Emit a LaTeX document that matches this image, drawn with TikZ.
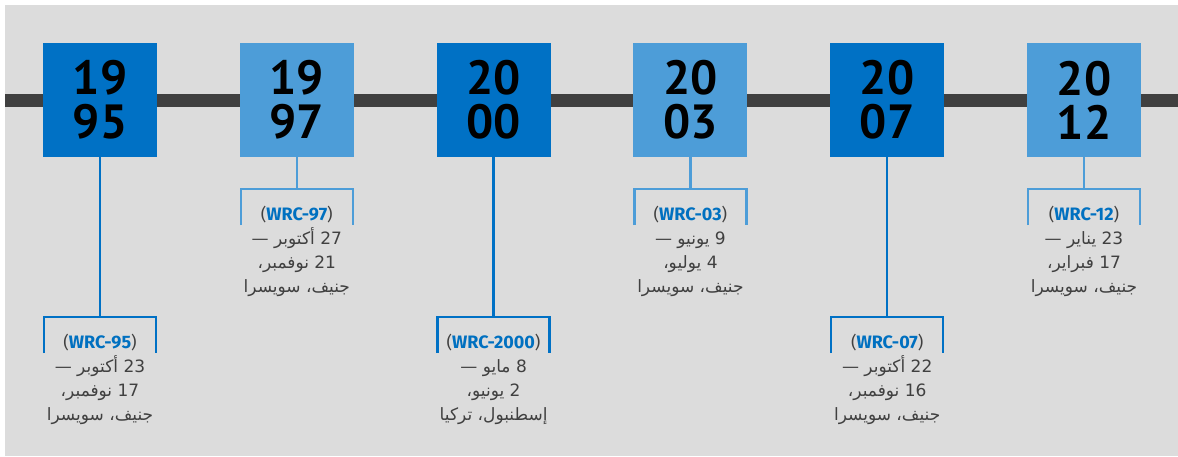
\documentclass[tikz,border=0pt]{standalone}
\usepackage{fontspec}
\setmainfont{Fira Sans}
\newfontfamily\arabicfont[Script=Arabic]{DejaVu Sans}
\newfontfamily\yearfamily{PT Sans}
\usepackage{xcolor}
\usepackage{tikz}
\usetikzlibrary{positioning,calc}
\TeXXeTstate=1

\definecolor{bggray}{HTML}{DCDCDC}
\definecolor{bargray}{HTML}{404040}
\definecolor{darkblue}{HTML}{0071C5}
\definecolor{lightblue}{HTML}{4D9DD8}
\definecolor{wrcblue}{HTML}{0070C0}
\definecolor{txtgray}{HTML}{404040}

\newcommand{\ar}[1]{{\arabicfont\beginR #1\endR}}
\newcommand{\wrc}[1]{{\color{txtgray}(}{\bfseries\fontsize{18}{24}\selectfont\color{wrcblue}#1}{\color{txtgray})}}

\begin{document}
\begin{tikzpicture}[x=1pt, y=-1pt, node distance=82.4pt]
\tikzset{
yeardark/.style   = {draw=none, shape=rectangle, fill=darkblue, minimum size=114pt, inner sep=0pt, align=center, text=black,
                     font=\yearfamily\bfseries\fontsize{48}{44}\selectfont},
yearlight/.style  = {yeardark, fill=lightblue},
info/.style       = {align=center, inner sep=0pt, text=txtgray, font=\fontsize{17}{24}\selectfont},
link/.style       = {line width=2.4pt, line join=miter},
coord/.style      = {coordinate},
}

    % Background and time bar
    \fill [bggray] (5,5) rectangle (1178,456);
    \useasboundingbox (0,0) rectangle (1178,456);
    \coordinate (bar_left)  at (5,100);
    \coordinate (bar_right) at (1178,100);
    \draw [bargray, line width=13pt] (bar_left) -- (bar_right);

    % Year nodes
    \node [yeardark]                 (y95) at (100,100) {19\\95};
    \node [yearlight, right=of y95]  (y97)  {19\\97};
    \node [yeardark, right=of y97]   (y00)  {20\\00};
    \node [yearlight, right=of y00]  (y03)  {20\\03};
    \node [yeardark, right=of y03]   (y07)  {20\\07};
    \node [yearlight, right=of y07]  (y12)  {20\\12};

    % Bracket tops
    \coordinate [below=160pt of y95] (b95);
    \coordinate [below=32pt of y97]  (b97);
    \coordinate [below=160pt of y00] (b00);
    \coordinate [below=32pt of y03]  (b03);
    \coordinate [below=160pt of y07] (b07);
    \coordinate [below=32pt of y12]  (b12);

    % Conference texts
    \node [info, below=17pt of b95] (i95) {\wrc{WRC-95}\\
        \ar{\beginL 23\endL{} أكتوبر —}\\ \ar{\beginL 17\endL{} نوفمبر،}\\ \ar{جنيف، سويسرا}};
    \node [info, below=17pt of b97] (i97) {\wrc{WRC-97}\\
        \ar{\beginL 27\endL{} أكتوبر —}\\ \ar{\beginL 21\endL{} نوفمبر،}\\ \ar{جنيف، سويسرا}};
    \node [info, below=17pt of b00] (i00) {\wrc{WRC-2000}\\
        \ar{\beginL 8\endL{} مايو —}\\ \ar{\beginL 2\endL{} يونيو،}\\ \ar{إسطنبول، تركيا}};
    \node [info, below=17pt of b03] (i03) {\wrc{WRC-03}\\
        \ar{\beginL 9\endL{} يونيو —}\\ \ar{\beginL 4\endL{} يوليو،}\\ \ar{جنيف، سويسرا}};
    \node [info, below=17pt of b07] (i07) {\wrc{WRC-07}\\
        \ar{\beginL 22\endL{} أكتوبر —}\\ \ar{\beginL 16\endL{} نوفمبر،}\\ \ar{جنيف، سويسرا}};
    \node [info, below=17pt of b12] (i12) {\wrc{WRC-12}\\
        \ar{\beginL 23\endL{} يناير —}\\ \ar{\beginL 17\endL{} فبراير،}\\ \ar{جنيف، سويسرا}};

    % Stems and brackets
    \draw [link, darkblue] (y95) -- (b95);
    \draw [link, darkblue] ([shift={(-56pt,-36pt)}]b95) -- ([xshift=-56pt]b95) -- ([xshift=56pt]b95) -- ([shift={(56pt,-36pt)}]b95);
    \draw [link, lightblue] (y97) -- (b97);
    \draw [link, lightblue] ([shift={(-56pt,-36pt)}]b97) -- ([xshift=-56pt]b97) -- ([xshift=56pt]b97) -- ([shift={(56pt,-36pt)}]b97);
    \draw [link, darkblue] (y00) -- (b00);
    \draw [link, darkblue] ([shift={(-56pt,-36pt)}]b00) -- ([xshift=-56pt]b00) -- ([xshift=56pt]b00) -- ([shift={(56pt,-36pt)}]b00);
    \draw [link, lightblue] (y03) -- (b03);
    \draw [link, lightblue] ([shift={(-56pt,-36pt)}]b03) -- ([xshift=-56pt]b03) -- ([xshift=56pt]b03) -- ([shift={(56pt,-36pt)}]b03);
    \draw [link, darkblue] (y07) -- (b07);
    \draw [link, darkblue] ([shift={(-56pt,-36pt)}]b07) -- ([xshift=-56pt]b07) -- ([xshift=56pt]b07) -- ([shift={(56pt,-36pt)}]b07);
    \draw [link, lightblue] (y12) -- (b12);
    \draw [link, lightblue] ([shift={(-56pt,-36pt)}]b12) -- ([xshift=-56pt]b12) -- ([xshift=56pt]b12) -- ([shift={(56pt,-36pt)}]b12);

\end{tikzpicture}
\end{document}
